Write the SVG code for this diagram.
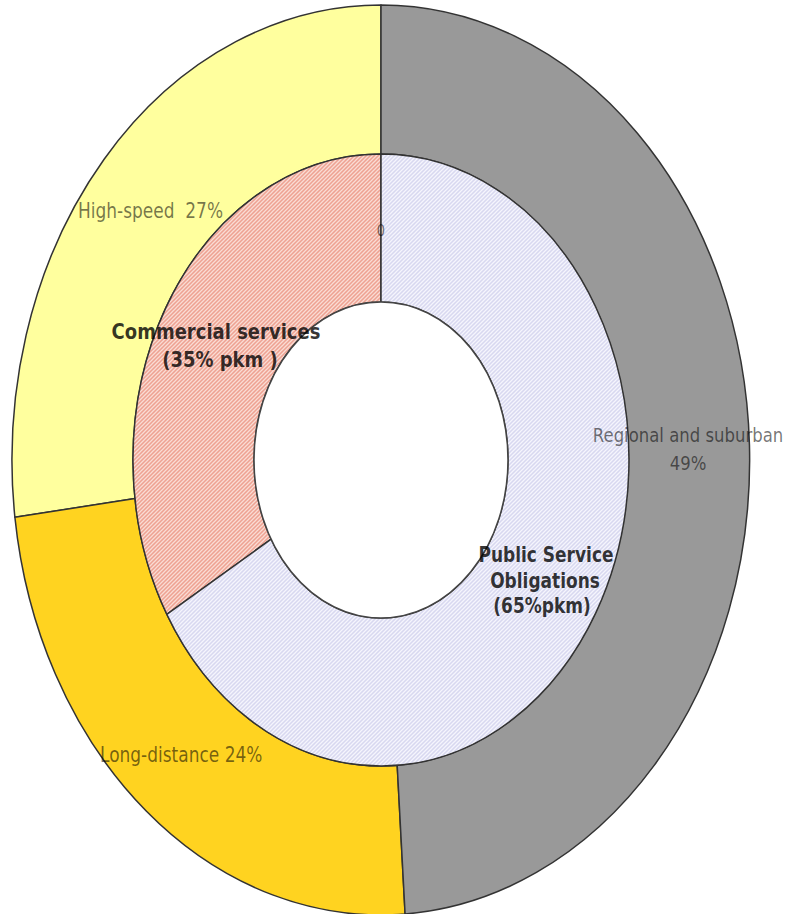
<svg xmlns="http://www.w3.org/2000/svg" width="788" height="914" viewBox="0 0 788 914">
  <style>
    .seg { stroke: #333333; stroke-width: 1.5; stroke-linejoin: round; }
    .lbl { font-family: "DejaVu Sans", "Liberation Sans", sans-serif; fill: #000000; fill-opacity: 0.55; }
    .blbl { font-family: "DejaVu Sans", "Liberation Sans", sans-serif; font-weight: bold; fill: #000000; fill-opacity: 0.8; }
  </style>
  <defs>
    <pattern id="hatchPink" width="4" height="4" patternUnits="userSpaceOnUse">
      <rect width="4" height="4" fill="#eea292"/>
      <path d="M-1,1 l2,-2 M0,4 l4,-4 M3,5 l2,-2" stroke="#fadcd4" stroke-width="1.3"/>
    </pattern>
    <pattern id="hatchBlue" width="4" height="4" patternUnits="userSpaceOnUse">
      <rect width="4" height="4" fill="#d8d8f0"/>
      <path d="M-1,1 l2,-2 M0,4 l4,-4 M3,5 l2,-2" stroke="#f5f5fd" stroke-width="1.3"/>
    </pattern>
  </defs>
  <rect width="788" height="914" fill="#ffffff"/>

  <g id="high-speed">
    <path class="seg" fill="#ffff9e" d="M381,5 A369,455 0 0 0 14.9,517.3 L135,498.5 A248,306 0 0 1 381,154 Z"/>
  </g>
  <g id="long-distance">
    <path class="seg" fill="#ffd320" d="M14.9,517.3 A369,455 0 0 0 405.1,914 L397.2,765.3 A248,306 0 0 1 135,498.5 Z"/>
  </g>
  <g id="regional">
    <path class="seg" fill="#999999" d="M381,5 A369,455 0 0 1 405.1,914 L397.2,765.3 A248,306 0 0 0 381,154 Z"/>
  </g>
  <g id="commercial">
    <path class="seg" fill="url(#hatchPink)" d="M381,154 A248,306 0 0 0 166.8,614.3 L271.1,539.2 A127,158 0 0 1 381,302 Z"/>
  </g>
  <g id="pso">
    <path class="seg" fill="url(#hatchBlue)" d="M381,154 A248,306 0 1 1 166.8,614.3 L271.1,539.2 A127,158 0 1 0 381,302 Z"/>
  </g>
  <g id="hole">
    <ellipse cx="381" cy="460" rx="127" ry="158" fill="#ffffff" stroke="#444444" stroke-width="1.5"/>
  </g>
  <g id="connectors"/>

  <g id="labels">
    <text class="lbl" transform="translate(78,218) scale(1,1.2)" font-size="17" xml:space="preserve">High-speed  27%</text>
    <text class="lbl" transform="translate(100,762) scale(1,1.2)" font-size="17">Long-distance 24%</text>
    <text class="lbl" transform="translate(688,442) scale(1,1.2)" font-size="16.5" text-anchor="middle">Regional and suburban</text>
    <text class="lbl" transform="translate(688,470) scale(1,1.2)" font-size="16.5" text-anchor="middle">49%</text>
    <text class="lbl" transform="translate(381,236) scale(1,1.2)" font-size="13" text-anchor="middle">0</text>
    <text class="blbl" transform="translate(216,339) scale(1,1.2)" font-size="18" text-anchor="middle">Commercial services</text>
    <text class="blbl" transform="translate(220,367) scale(1,1.2)" font-size="18" text-anchor="middle" xml:space="preserve">(35% pkm )</text>
    <text class="blbl" transform="translate(546,562) scale(1,1.2)" font-size="17" text-anchor="middle">Public Service</text>
    <text class="blbl" transform="translate(545,588) scale(1,1.2)" font-size="17" text-anchor="middle">Obligations</text>
    <text class="blbl" transform="translate(542,613) scale(1,1.2)" font-size="17" text-anchor="middle">(65%pkm)</text>
  </g>
</svg>
